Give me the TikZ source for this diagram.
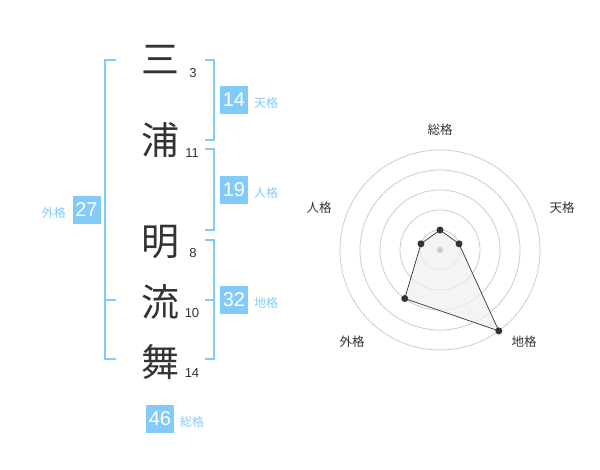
\documentclass[tikz,border=0pt]{standalone}
\usepackage{fontspec}
\usetikzlibrary{calc}
\setmainfont{Liberation Sans}
\newfontfamily\cjk{Noto Sans CJK JP}
\definecolor{kblue}{HTML}{82CBF8}
\definecolor{ink}{HTML}{333333}
\definecolor{ring}{HTML}{CCCCCC}
\definecolor{area}{HTML}{EFEFEF}
\tikzset{
  kanji/.style={font=\cjk\fontsize{38}{38}\selectfont, text=ink, inner sep=0pt},
  strokes/.style={font=\fontsize{13}{13}\selectfont, text=ink, inner sep=0pt},
  numbox/.style={fill=kblue, text=white, minimum width=28pt, minimum height=28pt, inner sep=0pt, font=\fontsize{20}{20}\selectfont},
  kaku/.style={text=kblue, font=\cjk\fontsize{12}{12}\selectfont, inner sep=0pt},
  bracket/.style={draw=kblue, line width=2pt},
  axislabel/.style={text=ink, font=\cjk\fontsize{12.5}{12.5}\selectfont, inner sep=0pt},
  dot/.style={circle, fill=ink, inner sep=0pt, minimum size=7pt},
  ringline/.style={draw=ring, line width=0.8pt}
}
\begin{document}
\begin{tikzpicture}[x=1pt,y=-1pt]
\useasboundingbox (0,0) rectangle (600,470);
% characters
\node[kanji] (c1) at (160,60) {三};
\node[kanji] (c2) at (160,140) {浦};
\node[kanji] (c3) at (160,242) {明};
\node[kanji] (c4) at (160,302) {流};
\node[kanji] (c5) at (160,362) {舞};
\node[strokes] (s1) at (193,73) {3};
\node[strokes] (s2) at (192,153) {11};
\node[strokes] (s3) at (193,253) {8};
\node[strokes] (s4) at (192,313) {10};
\node[strokes] (s5) at (192,373) {14};
% brackets
\draw[bracket] (116,60) -- (105,60) -- (105,359) -- (116,359);
\draw[bracket] (105,300) -- (116,300);
\draw[bracket] (205,60) -- (214,60) -- (214,140) -- (205,140);
\draw[bracket] (205,149) -- (214,149) -- (214,230) -- (205,230);
\draw[bracket] (205,240) -- (214,240) -- (214,359) -- (205,359);
\draw[bracket] (205,300) -- (214,300);
% boxes
\node[numbox] (b1) at (234,100) {14};
\node[kaku, anchor=west] (l1) at (254,103) {天格};
\node[numbox] (b2) at (234,190) {19};
\node[kaku, anchor=west] (l2) at (254,193) {人格};
\node[numbox] (b3) at (234,300) {32};
\node[kaku, anchor=west] (l3) at (254,303) {地格};
\node[numbox] (b4) at (86.5,210) {27};
\node[kaku, anchor=east] (l4) at (66,213) {外格};
\node[numbox] (b5) at (160,419) {46};
\node[kaku, anchor=west] (l5) at (180,422) {総格};
% radar
\coordinate (ctr) at (440,250);
\foreach \r in {20,40,60,80,100} \draw[ringline] (ctr) circle (\r pt);
\coordinate (pS) at ($(ctr)+(-90:20)$);
\coordinate (pT) at ($(ctr)+(-18:20)$);
\coordinate (pC) at ($(ctr)+(54:100)$);
\coordinate (pG) at ($(ctr)+(126:60)$);
\coordinate (pJ) at ($(ctr)+(198:20)$);
\draw[ink, line width=0.7pt, fill=area, fill opacity=0.7] (pS) -- (pT) -- (pC) -- (pG) -- (pJ) -- cycle;
\fill[ring] (ctr) circle (3pt);
\foreach \p in {pS,pT,pC,pG,pJ} \node[dot] at (\p) {};
\node[axislabel] (aS) at (440,130) {総格};
\node[axislabel] (aT) at (562,208) {天格};
\node[axislabel] (aJ) at (319,208) {人格};
\node[axislabel] (aG) at (352,342) {外格};
\node[axislabel] (aC) at (524,342) {地格};
\end{tikzpicture}
\end{document}
